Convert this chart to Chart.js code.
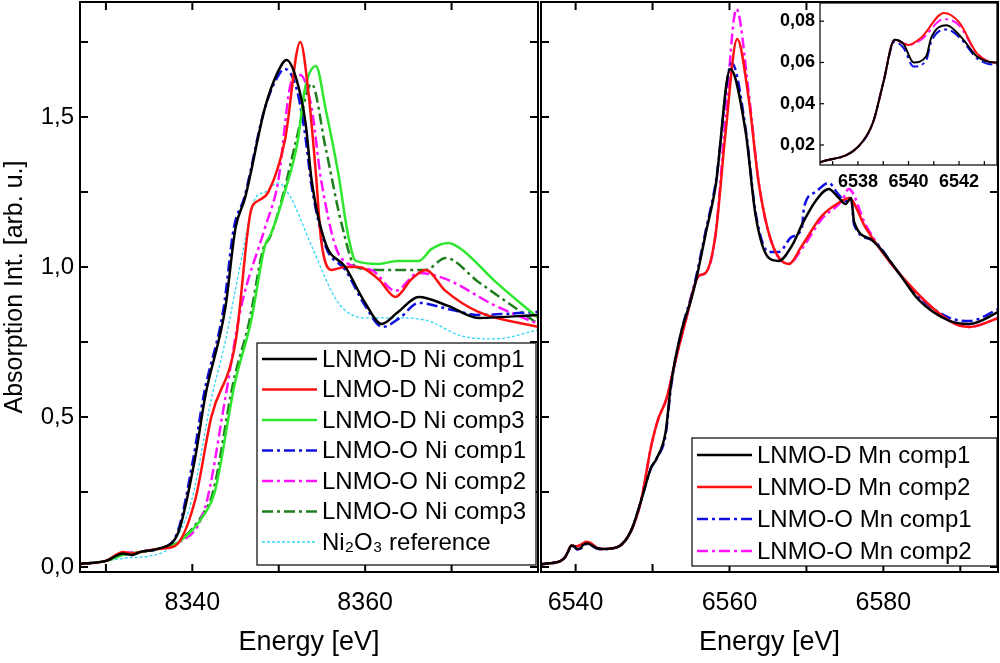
<!DOCTYPE html>
<html>
<head>
<meta charset="utf-8">
<script src="https://cdn.jsdelivr.net/npm/chart.js@4"></script>
<style>
  body { margin: 0; background: #fff; }
  #wrap { position: relative; width: 1000px; height: 663px; }
  canvas { position: absolute; }
</style>
</head>
<body>
<div id="wrap">
  <canvas id="niChart" style="left:0;top:0;width:540px;height:663px"></canvas>
  <canvas id="mnChart" style="left:540px;top:0;width:460px;height:663px"></canvas>
  <canvas id="insetChart" style="left:778px;top:3px;width:219px;height:195px"></canvas>
</div>
<script>
// ---- Ni K-edge (left panel) ----
const niLabels = ['LNMO-D Ni comp1', 'LNMO-D Ni comp2', 'LNMO-D Ni comp3',
                  'LNMO-O Ni comp1', 'LNMO-O Ni comp2', 'LNMO-O Ni comp3', 'Ni₂O₃ reference'];

const niE_D1 = [8327,8330,8332,8333,8334,8336,8338.3,8340.3,8341.5,8343.8,8345,8346.1,8348.4,8349.9,8350.9,8352,8353.1,8353.8,8355.4,8357.7,8360,8361.9,8363.8,8366.2,8369.6,8373.1,8380];
const niY_D1 = [.01,.02,.045,.04,.05,.06,.11,.36,.57,.86,1.13,1.23,1.53,1.65,1.69,1.63,1.48,1.29,1.08,1.0,.88,.81,.85,.90,.87,.83,.84];

const niE_D2 = [8327,8330,8332,8333,8334,8336,8338,8340.3,8342.2,8345,8346.8,8347.6,8348.8,8350.7,8352.5,8353.4,8354.3,8354.9,8356.1,8357.7,8359.2,8361.5,8363.5,8365.4,8367,8369.3,8373.1,8380];
const niY_D2 = [.01,.02,.05,.045,.05,.06,.07,.22,.50,.75,1.19,1.22,1.25,1.42,1.75,1.59,1.31,1.09,.99,1.0,1.0,.96,.90,.96,.99,.92,.85,.80];

const niE_D3 = [8327,8330,8332,8334,8336,8338.3,8341.5,8342.6,8344.9,8346.8,8348.4,8349.1,8350.7,8352.2,8353,8354.3,8355.4,8356.9,8358,8358.9,8361.5,8363.8,8366.2,8367.7,8369.6,8371.1,8375.1,8380];
const niY_D3 = [.01,.02,.04,.05,.06,.08,.18,.25,.61,.82,1.07,1.11,1.25,1.42,1.59,1.67,1.53,1.31,1.11,1.02,1.01,1.02,1.02,1.06,1.08,1.06,.95,.83];

const niE_O1 = [8327,8330,8332,8333,8334,8336,8338.2,8340.1,8341.3,8343.6,8344.8,8346,8348.3,8349.8,8350.7,8352,8353,8353.8,8355.4,8357.7,8360,8362,8364,8366.2,8369.6,8373.1,8380];
const niY_O1 = [.01,.02,.045,.04,.05,.06,.11,.36,.57,.86,1.13,1.23,1.52,1.63,1.66,1.6,1.45,1.27,1.07,.99,.87,.80,.83,.88,.86,.84,.85];

const niE_O2 = [8327,8330,8332,8334,8336,8338,8341.5,8343.8,8345.6,8348.4,8349.9,8351.5,8352.5,8353.8,8354.9,8357.2,8360.7,8363.5,8366.2,8369.3,8375.1,8380];
const niY_O2 = [.01,.02,.045,.05,.06,.075,.20,.56,.86,1.13,1.28,1.62,1.64,1.53,1.29,1.03,.99,.92,.98,.96,.87,.81];

const niE_O3 = [8327,8330,8332,8334,8336,8338.2,8341.3,8342.4,8344.7,8346.6,8348.2,8349,8350.5,8352,8353.8,8355.4,8357.3,8358.9,8361.5,8364,8367,8369.3,8373.1,8380];
const niY_O3 = [.01,.02,.04,.05,.06,.08,.18,.25,.61,.82,1.06,1.1,1.24,1.42,1.61,1.4,1.14,1.0,.99,.99,.99,1.03,.95,.81];

const niE_Ref = [8327,8330,8332.5,8335.7,8337.5,8339.9,8342.2,8343.8,8345.5,8347.3,8348.5,8349.9,8351.4,8353.8,8356.9,8360,8363.8,8367.3,8371.1,8375.1,8380];
const niY_Ref = [.01,.02,.03,.04,.07,.22,.56,.75,1.0,1.23,1.25,1.28,1.23,1.07,.88,.83,.83,.82,.77,.76,.79];

const niXTicks = [8330, 8340, 8350, 8360, 8370];
const yTicks = [0, 0.25, 0.5, 0.75, 1.0, 1.25, 1.5, 1.75];

// ---- Mn K-edge (right panel + inset) ----
const mnLabels = ['LNMO-D Mn comp1', 'LNMO-D Mn comp2', 'LNMO-O Mn comp1', 'LNMO-O Mn comp2'];

const mnE_D1 = [6535,6536.6,6538,6538.6,6539,6539.45,6539.8,6540.2,6540.7,6540.9,6541.5,6542.1,6542.7,6543.4,6545.5,6547.2,6548.5,6549.8,6550.5,6551.7,6552.4,6553.7,6555,6555.6,6556.9,6558.2,6560.1,6562.1,6563.4,6565.1,6566.4,6568.1,6569.6,6571.2,6572.9,6574.2,6575.1,6575.8,6576.2,6578.5,6582,6584.6,6588.6,6591.2,6595];
const mnY_D1 = [.007,.012,.019,.031,.050,.071,.069,.060,.063,.072,.078,.072,.063,.060,.067,.12,.22,.33,.36,.45,.61,.78,.89,.95,1.11,1.27,1.66,1.45,1.17,1.03,1.02,1.07,1.15,1.22,1.26,1.23,1.21,1.23,1.15,1.09,.98,.89,.82,.81,.85];

const mnE_D2 = [6535,6536.6,6538,6538.6,6539,6539.45,6540,6540.5,6541.4,6542,6542.7,6543.4,6545.5,6547.2,6548.5,6549.8,6550.7,6551.8,6553,6554.3,6556,6556.9,6558.2,6559.5,6561,6562.5,6563.8,6565.5,6567.7,6569.4,6572,6574.6,6575.5,6577.7,6582,6588.6,6591.2,6595];
const mnY_D2 = [.007,.012,.019,.031,.050,.071,.0685,.072,.084,.0795,.0645,.060,.067,.12,.22,.40,.49,.56,.69,.82,.97,.98,1.11,1.45,1.76,1.56,1.28,1.08,1.01,1.07,1.17,1.22,1.23,1.13,.98,.82,.80,.83];

const mnE_O1 = [6535,6536.6,6538,6538.6,6539,6539.45,6539.8,6540.2,6540.7,6540.9,6541.5,6542.1,6542.7,6543.4,6545.5,6547.2,6548.5,6549.8,6550.5,6551.7,6552.4,6553.7,6555,6555.6,6556.9,6558.2,6560.3,6562.1,6563.4,6565.1,6566.4,6568.1,6569.4,6569.7,6571.2,6572.9,6574.2,6575.1,6575.8,6576.2,6578.5,6582,6584.6,6588.6,6591.2,6595];
const mnY_O1 = [.007,.012,.019,.031,.050,.070,.067,.058,.061,.070,.076,.071,.062,.059,.067,.12,.22,.33,.36,.44,.60,.78,.90,.96,1.12,1.28,1.68,1.46,1.18,1.05,1.05,1.10,1.13,1.2,1.25,1.28,1.24,1.22,1.23,1.14,1.09,.98,.90,.83,.82,.86];

const mnE_O2 = [6535,6536.6,6538,6538.6,6539,6539.45,6540,6540.5,6541.4,6542,6542.7,6543.4,6545.5,6547.2,6548.5,6549.8,6550.7,6551.8,6553,6554.3,6556,6556.9,6558.2,6559.5,6560.9,6562.5,6563.8,6565.5,6567.7,6569.4,6572,6574.6,6575.5,6577.7,6582,6588.6,6591.2,6595];
const mnY_O2 = [.007,.012,.019,.031,.050,.071,.0685,.071,.081,.078,.0645,.060,.067,.12,.22,.40,.49,.56,.69,.82,.97,.98,1.11,1.5,1.86,1.58,1.28,1.08,1.01,1.06,1.16,1.22,1.26,1.14,.98,.82,.80,.83];

const mnXTicks = [6540, 6550, 6560, 6570, 6580, 6590];
const insetXTicks = [6537, 6538, 6539, 6540, 6541, 6542, 6543];
const insetYTicks = [0.02, 0.04, 0.06, 0.08];

function pts(xs, ys) { return xs.map((x, i) => ({ x: x, y: ys[i] })); }

const dashDot = [11, 4, 3, 4];
function ds(label, xs, ys, color, dash, width) {
  return {
    label: label, data: pts(xs, ys), borderColor: color, backgroundColor: color,
    borderWidth: width || 2.5, borderDash: dash || [], pointRadius: 0,
    cubicInterpolationMode: 'monotone', fill: false
  };
}

// no extra room for end labels: the plot box must sit where the reference has it
function noPadX(s) { s.paddingLeft = 0; s.paddingRight = 0; }
function noPadY(s) { s.paddingTop = 0; s.paddingBottom = 0; }

// frame, inward ticks and boxed legend
const framePlugin = {
  id: 'frame',
  afterDraw(chart, args, opts) {
    const ctx = chart.ctx;
    const a = chart.chartArea;
    ctx.save();
    ctx.strokeStyle = '#000';
    ctx.lineWidth = opts.lw || 2;
    ctx.strokeRect(a.left, a.top, a.right - a.left, a.bottom - a.top);
    const len = opts.tickLen || 8;
    const xs = chart.scales.x, ys = chart.scales.y;
    xs.ticks.forEach(t => {
      const p = xs.getPixelForValue(t.value);
      ctx.beginPath();
      ctx.moveTo(p, a.bottom); ctx.lineTo(p, a.bottom - len);
      if (opts.top !== false) { ctx.moveTo(p, a.top); ctx.lineTo(p, a.top + len); }
      ctx.stroke();
    });
    ys.ticks.forEach(t => {
      const p = ys.getPixelForValue(t.value);
      ctx.beginPath();
      ctx.moveTo(a.left, p); ctx.lineTo(a.left + len, p);
      if (opts.right !== false) { ctx.moveTo(a.right, p); ctx.lineTo(a.right - len, p); }
      ctx.stroke();
    });
    const lg = opts.legend;
    if (lg) {
      ctx.fillStyle = '#fff';
      ctx.fillRect(lg.x1, lg.y1, lg.x2 - lg.x1, lg.y2 - lg.y1);
      ctx.lineWidth = 1.2;
      ctx.strokeRect(lg.x1, lg.y1, lg.x2 - lg.x1, lg.y2 - lg.y1);
      ctx.font = lg.font;
      ctx.textBaseline = 'middle';
      chart.data.datasets.forEach((d, i) => {
        const y = lg.firstY + i * lg.rowH;
        ctx.strokeStyle = d.borderColor;
        ctx.lineWidth = d.borderWidth;
        ctx.setLineDash(d.borderDash);
        ctx.beginPath();
        ctx.moveTo(lg.x1 + 5, y); ctx.lineTo(lg.x1 + 5 + lg.lineLen, y);
        ctx.stroke();
        ctx.setLineDash([]);
        ctx.fillStyle = '#000';
        ctx.fillText(d.label, lg.x1 + lg.lineLen + 10, y + 1);
      });
    }
    ctx.restore();
  }
};

const whiteBg = {
  id: 'whiteBg',
  beforeDatasetsDraw(chart) {
    const c = chart.ctx, a = chart.chartArea;
    c.save(); c.fillStyle = '#fff'; c.fillRect(a.left, a.top, a.right - a.left, a.bottom - a.top); c.restore();
  }
};

const FONT = 'Liberation Sans, Arial, sans-serif';
function comma(v, n) { return v.toFixed(n).replace('.', ','); }

new Chart(document.getElementById('niChart'), {
  type: 'line',
  data: {
    datasets: [
      ds(niLabels[0], niE_D1, niY_D1, '#000000'),
      ds(niLabels[1], niE_D2, niY_D2, '#ff1010'),
      ds(niLabels[2], niE_D3, niY_D3, '#2ee62e'),
      ds(niLabels[3], niE_O1, niY_O1, '#1010e0', dashDot),
      ds(niLabels[4], niE_O2, niY_O2, '#ff10ff', dashDot),
      ds(niLabels[5], niE_O3, niY_O3, '#1f7f1f', dashDot),
      ds(niLabels[6], niE_Ref, niY_Ref, '#30d8f8', [3, 2], 1.3)
    ]
  },
  options: {
    responsive: false, animation: false, maintainAspectRatio: false,
    layout: { padding: { left: 0, right: 2, top: 2, bottom: 0 } },
    scales: {
      x: {
        type: 'linear', min: 8327, max: 8380,
        afterBuildTicks: s => { s.ticks = niXTicks.map(v => ({ value: v })); },
        afterFit: s => { s.height = 91; noPadX(s); },
        grid: { display: false, drawTicks: false }, border: { display: false },
        ticks: { padding: 16, color: '#000', font: { family: FONT, size: 25 },
                 callback: v => (v % 20 === 0 ? String(v) : '') },
        title: { display: true, text: 'Energy [eV]', color: '#000', font: { family: FONT, size: 27 }, padding: { top: 2 } }
      },
      y: {
        min: -0.017, max: 1.883,
        afterBuildTicks: s => { s.ticks = yTicks.map(v => ({ value: v })); },
        afterFit: s => { s.width = 80; noPadY(s); },
        grid: { display: false, drawTicks: false }, border: { display: false },
        ticks: { padding: 6, color: '#000', font: { family: FONT, size: 24 },
                 callback: v => (Math.abs(v * 2 - Math.round(v * 2)) < 1e-6 && v < 1.6 ? comma(v, 1) : '') },
        title: { display: true, text: 'Absorption Int. [arb. u.]', color: '#000', font: { family: FONT, size: 25 }, padding: 0 }
      }
    },
    plugins: {
      legend: { display: false }, tooltip: { enabled: false },
      frame: { legend: { x1: 257, y1: 343, x2: 536, y2: 565, firstY: 359, rowH: 30.5, lineLen: 55, font: '24px ' + FONT } }
    }
  },
  plugins: [framePlugin]
});

const mnSets = () => [
  ds(mnLabels[0], mnE_D1, mnY_D1, '#000000'),
  ds(mnLabels[1], mnE_D2, mnY_D2, '#ff1010'),
  ds(mnLabels[2], mnE_O1, mnY_O1, '#1010e0', dashDot),
  ds(mnLabels[3], mnE_O2, mnY_O2, '#ff10ff', dashDot)
];

new Chart(document.getElementById('mnChart'), {
  type: 'line',
  data: { datasets: mnSets() },
  options: {
    responsive: false, animation: false, maintainAspectRatio: false,
    layout: { padding: { left: 1, right: 2, top: 2, bottom: 0 } },
    scales: {
      x: {
        type: 'linear', min: 6535.5, max: 6594.9,
        afterBuildTicks: s => { s.ticks = mnXTicks.map(v => ({ value: v })); },
        afterFit: s => { s.height = 91; noPadX(s); },
        grid: { display: false, drawTicks: false }, border: { display: false },
        ticks: { padding: 16, color: '#000', font: { family: FONT, size: 25 },
                 callback: v => (v % 20 === 0 ? String(v) : '') },
        title: { display: true, text: 'Energy [eV]', color: '#000', font: { family: FONT, size: 27 }, padding: { top: 2 } }
      },
      y: {
        min: -0.017, max: 1.883,
        afterBuildTicks: s => { s.ticks = yTicks.map(v => ({ value: v })); },
        afterFit: s => { s.width = 0; noPadY(s); },
        grid: { display: false, drawTicks: false }, border: { display: false },
        ticks: { display: false }
      }
    },
    plugins: {
      legend: { display: false }, tooltip: { enabled: false },
      frame: { legend: { x1: 152, y1: 438, x2: 457, y2: 566, firstY: 455, rowH: 32, lineLen: 55, font: '24px ' + FONT } }
    }
  },
  plugins: [framePlugin]
});

new Chart(document.getElementById('insetChart'), {
  type: 'line',
  data: { datasets: mnSets().map(d => Object.assign(d, { borderWidth: 2 })) },
  options: {
    responsive: false, animation: false, maintainAspectRatio: false,
    layout: { padding: { left: 0, right: 0, top: 0, bottom: 0 } },
    scales: {
      x: {
        type: 'linear', min: 6536.5, max: 6543.5,
        afterBuildTicks: s => { s.ticks = insetXTicks.map(v => ({ value: v })); },
        afterFit: s => { s.height = 33; noPadX(s); },
        grid: { display: false, drawTicks: false }, border: { display: false },
        ticks: { padding: 6, autoSkip: false, maxRotation: 0, minRotation: 0, color: '#000',
                 font: { family: FONT, size: 18, weight: 'bold' },
                 callback: v => (Math.round(v) % 2 === 0 ? String(Math.round(v)) : '') }
      },
      y: {
        min: 0.0103, max: 0.0888,
        afterBuildTicks: s => { s.ticks = insetYTicks.map(v => ({ value: v })); },
        afterFit: s => { s.width = 42; noPadY(s); },
        grid: { display: false, drawTicks: false }, border: { display: false },
        ticks: { padding: 5, color: '#000', font: { family: FONT, size: 18, weight: 'bold' },
                 callback: v => comma(v, 2) }
      }
    },
    plugins: {
      legend: { display: false }, tooltip: { enabled: false },
      frame: { lw: 1.2, tickLen: 4, top: false, right: false }
    }
  },
  plugins: [whiteBg, framePlugin]
});
</script>
</body>
</html>
